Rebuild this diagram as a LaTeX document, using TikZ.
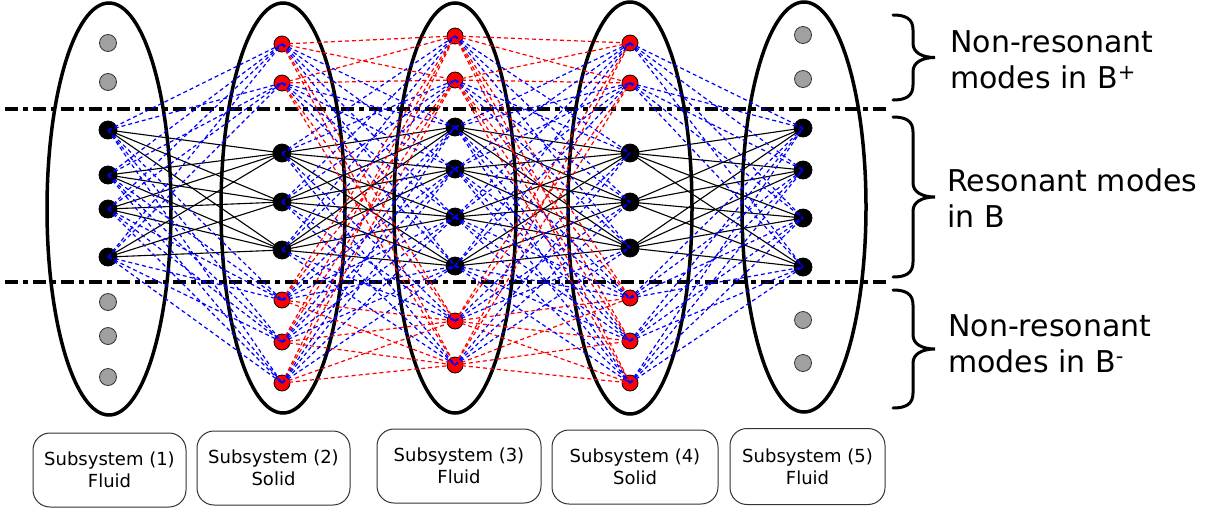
\documentclass[tikz,border=0pt]{standalone}
\usepackage{fontspec}
\setmainfont{DejaVu Sans}
\definecolor{nodegray}{RGB}{160,160,160}
\definecolor{boxline}{RGB}{50,50,50}
\begin{document}
\begin{tikzpicture}[x=1pt,y=-1pt,
  blk/.style={circle, fill=black, draw=black, line width=0.8pt, minimum size=18pt, inner sep=0pt},
  rednode/.style={circle, fill=red, draw=black, line width=0.8pt, minimum size=16pt, inner sep=0pt},
  graynode/.style={circle, fill=nodegray, draw=black!80, line width=0.8pt, minimum size=17pt, inner sep=0pt},
  res/.style={line width=1.1pt, black},
  bluedash/.style={blue, dash pattern=on 4pt off 3pt, line width=1.2pt},
  reddash/.style={red, dash pattern=on 4pt off 3pt, line width=1.2pt},
  subell/.style={line width=3.5pt, black},
  divider/.style={line width=3.2pt, dash pattern=on 13pt off 5pt on 5pt off 5pt},
  bracepath/.style={line width=3pt, line cap=round},
  subbox/.style={draw=boxline, line width=1pt, rounded corners=17pt, align=center, inner sep=0pt, font=\fontsize{18}{22}\selectfont},
  lbl/.style={anchor=west, align=left, inner sep=0pt, font=\fontsize{30}{36}\selectfont}
]
\useasboundingbox (0,0) rectangle (1206,512);

% subsystem ellipses
\draw[subell] (109,209) ellipse [x radius=62pt, y radius=206pt];
\draw[subell] (283,208) ellipse [x radius=62pt, y radius=205pt];
\draw[subell] (455,208) ellipse [x radius=61pt, y radius=205pt];
\draw[subell] (630,208) ellipse [x radius=62pt, y radius=206pt];
\draw[subell] (804,207) ellipse [x radius=62pt, y radius=205pt];

% dividers
\draw[divider] (5,109) -- (890,109);
\draw[divider] (5,282) -- (890,282);

% column 1
\foreach \yy [count=\k] in {43,82,302,336,377} \node[graynode] (G1-\k) at (108,\yy) {};
\foreach \yy [count=\k] in {130,175,209,257} \node[blk] (B1-\k) at (108,\yy) {};
% column 2
\foreach \yy [count=\k] in {44,83,300,342,383} \node[rednode] (R2-\k) at (282,\yy) {};
\foreach \yy [count=\k] in {153,202,250} \node[blk] (B2-\k) at (282,\yy) {};
% column 3
\foreach \yy [count=\k] in {36,80,321,365} \node[rednode] (R3-\k) at (455,\yy) {};
\foreach \yy [count=\k] in {127,169,217,266} \node[blk] (B3-\k) at (455,\yy) {};
% column 4
\foreach \yy [count=\k] in {43,83,298,341,383} \node[rednode] (R4-\k) at (630,\yy) {};
\foreach \yy [count=\k] in {153,202,248} \node[blk] (B4-\k) at (630,\yy) {};
% column 5
\foreach \yy [count=\k] in {35,79,320,363} \node[graynode] (G5-\k) at (803,\yy) {};
\foreach \yy [count=\k] in {128,170,218,267} \node[blk] (B5-\k) at (803,\yy) {};

% resonant-resonant couplings
\foreach \ci/\cj/\ni/\nj in {1/2/4/3, 2/3/3/4, 3/4/4/3, 4/5/3/4}
  \foreach \a in {1,...,\ni}
    \foreach \b in {1,...,\nj}
      \draw[res] (B\ci-\a.center) -- (B\cj-\b.center);

% non-resonant - non-resonant couplings
\foreach \ci/\cj/\ni/\nj in {2/3/5/4, 3/4/4/5}
  \foreach \a in {1,...,\ni}
    \foreach \b in {1,...,\nj}
      \draw[reddash] (R\ci-\a.center) -- (R\cj-\b.center);

% resonant - non-resonant couplings
\foreach \ci/\cj/\ni/\nj in {1/2/4/5, 2/3/3/4, 3/4/4/5}
  \foreach \a in {1,...,\ni}
    \foreach \b in {1,...,\nj}
      \draw[bluedash] (B\ci-\a.center) -- (R\cj-\b.center);
\foreach \ci/\cj/\ni/\nj in {2/3/5/4, 3/4/4/3, 4/5/5/4}
  \foreach \a in {1,...,\ni}
    \foreach \b in {1,...,\nj}
      \draw[bluedash] (R\ci-\a.center) -- (B\cj-\b.center);

% braces
\foreach \ya/\yb in {15/100,117/277,290/408}{
  \pgfmathsetmacro\braceMid{(\ya+\yb)/2}
  \draw[bracepath] (893,\ya) .. controls (906,\ya) and (913,{\ya+4}) .. (913,{\ya+15})
    -- (913,{\braceMid-14}) .. controls (913,{\braceMid-5}) and (922,\braceMid) .. (935,\braceMid)
    .. controls (922,\braceMid) and (913,{\braceMid+5}) .. (913,{\braceMid+14})
    -- (913,{\yb-15}) .. controls (913,{\yb-4}) and (906,\yb) .. (893,\yb);
}

% labels
\node[lbl] (lplus) at (950,60) {Non-resonant\\modes in B\textsuperscript{+}};
\node[lbl] (lres) at (947,198) {Resonant modes\\in B};
\node[lbl] (lminus) at (948,344) {Non-resonant\\modes in B\textsuperscript{-}};

% subsystem boxes
\node[subbox, minimum width=153pt, minimum height=74pt] (s1) at (109.5,470) {Subsystem (1)\\Fluid};
\node[subbox, minimum width=153pt, minimum height=74pt] (s2) at (273.5,468) {Subsystem (2)\\Solid};
\node[subbox, minimum width=164pt, minimum height=74pt] (s3) at (459,466) {Subsystem (3)\\Fluid};
\node[subbox, minimum width=166pt, minimum height=74pt] (s4) at (635,467) {Subsystem (4)\\Solid};
\node[subbox, minimum width=155pt, minimum height=76pt] (s5) at (807.5,466.5) {Subsystem (5)\\Fluid};
\end{tikzpicture}
\end{document}
